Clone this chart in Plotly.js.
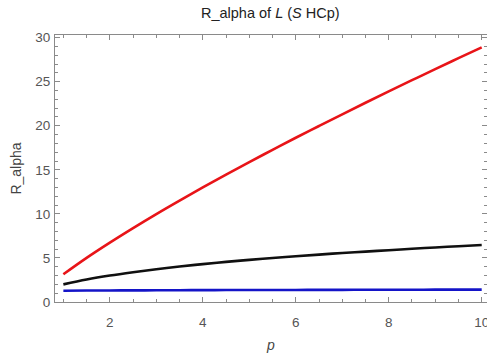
<!DOCTYPE html>
<html>
<head>
<meta charset="utf-8">
<script src="https://cdn.plot.ly/plotly-3.0.1.min.js"></script>
<style>html,body{margin:0;padding:0;background:#fff;}#chart{width:487px;height:358px;}</style>
</head>
<body>
<div id="chart"></div>
<script>
const pValues = [1, 1.5, 2, 2.5, 3, 3.5, 4, 4.5, 5, 5.5, 6, 6.5, 7, 7.5, 8, 8.5, 9, 9.5, 10];
const redSeries = [3.15, 5.01, 6.74, 8.39, 9.98, 11.51, 13.0, 14.45, 15.88, 17.26, 18.64, 19.97, 21.30, 22.61, 23.90, 25.17, 26.43, 27.67, 28.90];
const blackSeries = [2.0, 2.55, 3.0, 3.38, 3.72, 4.03, 4.3, 4.55, 4.78, 4.99, 5.19, 5.38, 5.56, 5.72, 5.88, 6.04, 6.19, 6.33, 6.47];
const blueSeries = [1.28, 1.30, 1.31, 1.32, 1.33, 1.34, 1.35, 1.355, 1.36, 1.365, 1.37, 1.375, 1.38, 1.385, 1.39, 1.395, 1.40, 1.405, 1.41];
const xTicks = [2, 4, 6, 8, 10];
const yTicks = [0, 5, 10, 15, 20, 25, 30];

const font = "Liberation Sans, Arial, sans-serif";
function tr(y, color) {
  return {x: pValues, y: y, type: 'scatter', mode: 'lines', line: {color: color, width: 2.6, shape: 'spline'}, showlegend: false, hoverinfo: 'skip'};
}
const data = [tr(blueSeries, '#1414c8'), tr(blackSeries, '#101010'), tr(redSeries, '#e81418')];

const axisCommon = {
  showgrid: false, zeroline: false, showline: true, linecolor: '#8a8a8a', linewidth: 1,
  ticks: 'inside', tickcolor: '#8a8a8a', tickwidth: 1,
  tickfont: {family: font, size: 13.5, color: '#555'},
  ticklabeloverflow: 'allow'
};
const layout = {
  width: 487, height: 358,
  margin: {l: 55, r: 0, t: 35, b: 56},
  paper_bgcolor: '#fff', plot_bgcolor: '#fff',
  title: {text: 'R_alpha of <i>L</i> (<i>S</i> HCp)', font: {family: font, size: 14.5, color: '#222'}, x: 0.555, xanchor: 'center', y: 0.965, yanchor: 'middle'},
  xaxis: Object.assign({}, axisCommon, {
    range: [0.82, 10.114], tickvals: xTicks, ticktext: xTicks.map(String), ticklen: 5, mirror: 'ticks',
    ticklabelstandoff: 8,
    minor: {dtick: 0.5, tick0: 0, ticks: 'inside', ticklen: 3, tickcolor: '#8a8a8a', showgrid: false},
    title: {text: '<i>p</i>', font: {family: font, size: 14, color: '#444'}, standoff: 10}
  }),
  yaxis: Object.assign({}, axisCommon, {
    range: [0, 30.3], tickvals: yTicks, ticktext: yTicks.map(String), ticklen: 5, mirror: 'ticks',
    ticklabelstandoff: 1,
    minor: {dtick: 1, tick0: 0, ticks: 'inside', ticklen: 3, tickcolor: '#8a8a8a', showgrid: false},
    title: {text: 'R_alpha', font: {family: font, size: 14, color: '#444'}, standoff: 10}
  })
};
Plotly.newPlot('chart', data, layout, {displayModeBar: false, staticPlot: true});
</script>
</body>
</html>
